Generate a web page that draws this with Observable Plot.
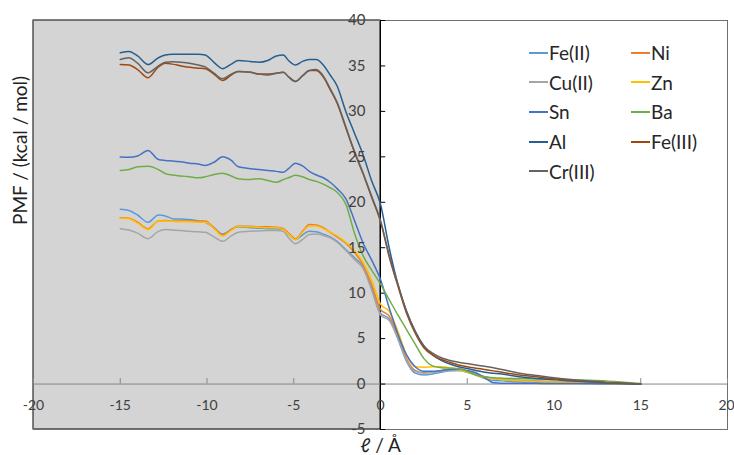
<!DOCTYPE html>
<html>
<head>
<meta charset="utf-8">
<script src="https://cdn.jsdelivr.net/npm/d3@7"></script>
<script src="https://cdn.jsdelivr.net/npm/@observablehq/plot@0.6"></script>
<style>
  html, body { margin: 0; padding: 0; background: #fff; }
  #wrap { position: relative; width: 734px; height: 455px; font-family: Lato, "Open Sans", sans-serif; }
  #legend { position: absolute; left: 529px; top: 38px; display: grid; grid-template-columns: 102px 90px; }
  .item { height: 29.6px; display: flex; align-items: center; font-size: 19px; color: #262626; }
  .sw { display: inline-block; width: 19px; height: 2px; margin-right: 1px; }
</style>
</head>
<body>
<div id="wrap"><div id="legend"></div></div>
<script>
// shared x grid (Å)
const X = [-15, -14.5, -14, -13.4, -12.8, -12.4, -12, -11.5, -11, -10.5,
           -10.1, -9.6, -9.1, -8.6, -8.2, -7.5, -7, -6.5, -6, -5.6,
           -5.3, -4.9, -4.5, -4.1, -3.7, -3.3, -2.9, -2.5, -2, -1.5,
           -1, -0.5, 0, 0.5, 1, 1.5, 2, 2.5, 3, 3.5,
           4, 4.5, 5, 5.5, 6, 6.5, 7, 8, 9, 10,
           11, 12, 13, 14, 15];

const feII = [19.23, 19.1, 18.6, 17.8, 18.6, 18.5, 18.2, 18.15, 18.1, 17.95,
              17.8, 17.2, 16.5, 17.0, 17.3, 17.2, 17.15, 17.1, 17.1, 17.0,
              16.5, 15.9, 16.4, 16.8, 16.75, 16.5, 16.2, 15.7, 14.8, 13.9,
              12.9, 10.5, 7.8, 7.2, 5.0, 2.5, 1.2, 1.0, 1.1, 1.3,
              1.45, 1.5, 1.3, 1.0, 0.6, 0.4, 0.35, 0.25, 0.2, 0.15,
              0.1, 0.05, 0.05, 0.02, 0.0];
const ni = [18.3, 18.25, 17.8, 17.1, 17.95, 18.0, 17.95, 17.95, 17.95, 17.95,
            17.95, 17.2, 16.4, 17.0, 17.4, 17.35, 17.3, 17.3, 17.25, 17.1,
            16.6, 16.0, 16.8, 17.55, 17.5, 17.2, 16.7, 16.2, 15.5, 14.5,
            13.1, 10.9, 8.2, 7.5, 5.4, 2.8, 1.5, 1.25, 1.3, 1.45,
            1.6, 1.6, 1.4, 1.1, 0.8, 0.6, 0.5, 0.4, 0.3, 0.25,
            0.2, 0.12, 0.08, 0.03, 0.0];
const cuII = [17.1, 16.95, 16.6, 16.0, 16.8, 17.0, 16.95, 16.9, 16.8, 16.75,
              16.7, 16.2, 15.7, 16.3, 16.7, 16.8, 16.85, 16.9, 16.9, 16.8,
              16.1, 15.45, 15.9, 16.45, 16.5, 16.35, 16.1, 15.6, 14.7, 13.7,
              12.7, 10.3, 7.6, 7.0, 5.0, 2.6, 1.4, 1.2, 1.3, 1.4,
              1.5, 1.5, 1.35, 1.1, 0.8, 0.6, 0.55, 0.45, 0.35, 0.3,
              0.25, 0.2, 0.12, 0.05, 0.0];
const zn = [18.25, 18.2, 17.7, 17.0, 17.9, 17.95, 17.9, 17.85, 17.85, 17.8,
            17.8, 17.1, 16.3, 16.9, 17.35, 17.3, 17.25, 17.2, 17.2, 17.0,
            16.5, 15.9, 16.7, 17.4, 17.4, 17.1, 16.7, 16.3, 15.6, 14.7,
            13.4, 11.4, 8.8, 8.0, 5.8, 3.2, 1.9, 1.85, 1.9, 1.9,
            1.8, 1.6, 1.3, 1.0, 0.7, 0.6, 0.5, 0.35, 0.25, 0.2,
            0.15, 0.1, 0.06, 0.02, 0.0];
const sn = [24.98, 24.95, 25.1, 25.7, 24.7, 24.6, 24.55, 24.45, 24.3, 24.2,
            24.05, 24.4, 25.0, 24.6, 23.9, 23.7, 23.6, 23.5, 23.4, 23.3,
            23.7, 24.3, 24.0, 23.4, 23.0, 22.7, 22.2, 21.5, 20.4, 18.0,
            15.5, 13.6, 11.5, 8.4, 5.5, 3.2, 1.9, 1.4, 1.4, 1.5,
            1.6, 1.65, 1.5, 1.25, 0.7, 0.15, 0.1, 0.1, 0.08, 0.05,
            0.05, 0.05, 0.03, 0.02, 0.0];
const ba = [23.5, 23.6, 23.9, 23.96, 23.6, 23.15, 23.0, 22.9, 22.8, 22.7,
            22.8, 23.05, 23.2, 22.9, 22.6, 22.5, 22.6, 22.4, 22.2, 22.5,
            22.7, 22.97, 22.8, 22.5, 22.3, 22.0, 21.6, 21.1, 19.8, 16.6,
            14.1, 12.5, 11.0, 9.3, 7.6, 6.0, 4.4, 2.8, 2.0, 1.8,
            1.75, 1.7, 1.4, 1.0, 0.8, 0.7, 0.65, 0.6, 0.55, 0.5,
            0.45, 0.42, 0.35, 0.2, 0.05];
const al = [36.45, 36.6, 36.1, 35.15, 35.9, 36.2, 36.3, 36.3, 36.3, 36.3,
            36.2, 35.4, 34.7, 35.2, 35.6, 35.5, 35.4, 35.6, 36.1, 36.2,
            35.6, 35.1, 35.5, 35.7, 35.7, 35.1, 34.0, 32.8, 30.0, 27.6,
            25.2, 22.3, 19.8, 15.0, 11.0, 8.0, 5.8, 4.2, 3.2, 2.6,
            2.2, 1.9, 1.7, 1.5, 1.3, 1.2, 1.1, 0.8, 0.6, 0.5,
            0.35, 0.25, 0.15, 0.05, 0.0];
const feIII = [35.15, 35.1, 34.6, 33.7, 34.9, 35.3, 35.2, 35.0, 34.85, 34.75,
               34.7, 34.1, 33.4, 34.0, 34.4, 34.3, 34.1, 34.1, 34.2, 34.3,
               33.8, 33.3, 33.9, 34.5, 34.5, 33.8, 32.4, 30.9, 28.2, 25.5,
               23.1, 20.5, 17.9, 14.0, 10.8, 7.8, 5.6, 4.0, 3.2, 2.7,
               2.4, 2.1, 1.9, 1.75, 1.6, 1.45, 1.3, 1.0, 0.8, 0.55,
               0.4, 0.28, 0.15, 0.08, 0.0];
const crIII = [35.7, 35.9, 35.3, 34.25, 35.0, 35.4, 35.45, 35.4, 35.3, 35.1,
               34.9, 34.2, 33.6, 34.1, 34.4, 34.3, 34.1, 34.0, 34.2, 34.3,
               33.8, 33.3, 33.9, 34.5, 34.6, 33.9, 32.5, 31.0, 28.3, 25.6,
               23.2, 20.6, 18.0, 14.2, 11.0, 8.0, 5.8, 4.2, 3.4, 2.9,
               2.6, 2.4, 2.25, 2.1, 1.95, 1.8, 1.6, 1.2, 0.95, 0.7,
               0.5, 0.35, 0.2, 0.1, 0.0];

const seriesNames = ["Fe(II)", "Ni", "Cu(II)", "Zn", "Sn", "Ba", "Al", "Fe(III)", "Cr(III)"];
const seriesColors = ["#5B9BD5", "#ED7D31", "#A5A5A5", "#FFC000", "#4472C4", "#70AD47", "#255E91", "#9E480E", "#636363"];
const seriesValues = [feII, ni, cuII, zn, sn, ba, al, feIII, crIII];

const xDomain = [-20, 20];
const yDomain = [-5, 40];
const xTicks = [-20, -15, -10, -5, 0, 5, 10, 15, 20];
const yTicks = [-5, 0, 5, 10, 15, 20, 25, 30, 35, 40];
const xTitle = "ℓ / Å";
const yTitle = "PMF / (kcal / mol)";

const rows = seriesNames.flatMap((s, i) => X.map((x, j) => ({x, y: seriesValues[i][j], series: s})));

const chart = Plot.plot({
  width: 734,
  height: 455,
  marginLeft: 33,
  marginRight: 7,
  marginTop: 20,
  marginBottom: 26,
  x: {domain: xDomain, axis: null},
  y: {domain: yDomain, axis: null},
  color: {domain: seriesNames, range: seriesColors},
  style: {fontFamily: "Lato, 'Open Sans', sans-serif", background: "white", overflow: "visible"},
  marks: [
    Plot.rect([xDomain], {x1: d => d[0], x2: () => 0, y1: () => yDomain[0], y2: () => yDomain[1], fill: "#d4d4d4", stroke: "#000"}),
    Plot.frame({stroke: "#6f6f6f"}),
    Plot.ruleY([0], {stroke: "#868686"}),
    Plot.ruleX(xTicks, {x: d => d, y1: () => 0, y2: () => 0.6, stroke: "#868686"}),
    Plot.ruleX([0], {stroke: "#000"}),
    Plot.ruleY(yTicks, {y: d => d, x1: () => 0, x2: () => 0.3, stroke: "#000"}),
    Plot.line(rows, {x: "x", y: "y", z: "series", stroke: "series", strokeWidth: 1.5, curve: "monotone-x"}),
    Plot.text(xTicks.slice(0, -1), {x: d => d, y: () => 0, dy: 21, text: d => String(d), fill: "#404040", fontSize: 14}),
    Plot.text(xTicks.slice(-1), {x: d => d, y: () => 0, dy: 21, dx: -1, text: d => String(d), fill: "#404040", fontSize: 14}),
    Plot.text(yTicks, {x: () => 0, y: d => d, dx: -15, textAnchor: "end", text: d => String(d), fill: "#404040", fontSize: 15}),
    Plot.text([yTitle], {frameAnchor: "left", dx: -13, rotate: -90, text: d => d, fill: "#222", fontSize: 19}),
    Plot.text([xTitle], {x: () => 0, frameAnchor: "bottom", lineAnchor: "middle", dy: 16, text: d => d, fill: "#222", fontSize: 19})
  ]
});
const wrap = document.getElementById("wrap");
wrap.insertBefore(chart, wrap.firstChild);
chart.style.position = "absolute";
chart.style.left = "0px";
chart.style.top = "0px";

const legend = d3.select("#legend");
seriesNames.forEach((s, i) => {
  const it = legend.append("div").attr("class", "item");
  it.append("span").attr("class", "sw").style("background", seriesColors[i]);
  it.append("span").text(s);
});
</script>
</body>
</html>
